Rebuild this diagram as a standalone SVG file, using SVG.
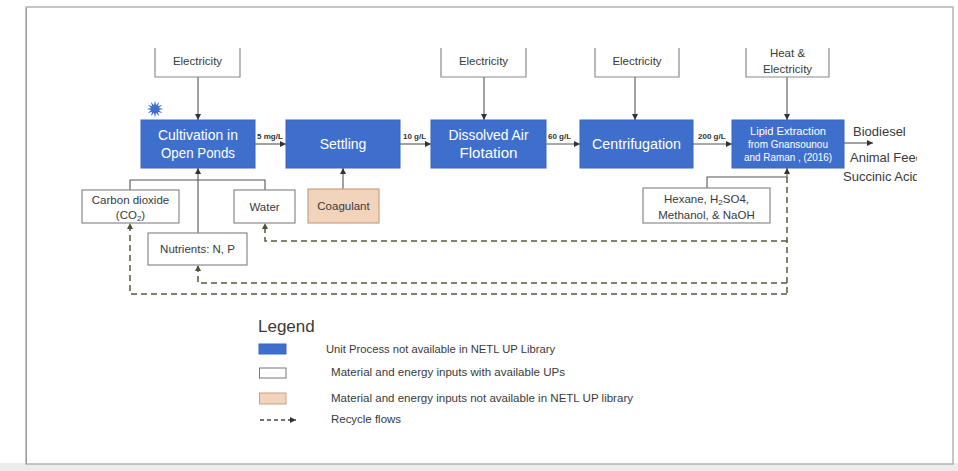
<svg xmlns="http://www.w3.org/2000/svg" width="958" height="471" viewBox="0 0 958 471">
<style>
text{font-family:"Liberation Sans","Noto Sans",Arial,sans-serif;fill:#3a3a3a}
.up{fill:#3f6fcc;stroke:#3a66bd;stroke-width:1}
.in{fill:#ffffff;stroke:#8a8a8a;stroke-width:1.2}
.na{fill:#f2d4bd;stroke:#c4a287;stroke-width:1.2}
.wt{fill:#ffffff;text-anchor:middle}
.lb{text-anchor:middle;font-size:11.5px}
.fl{font-size:8px;font-weight:bold;fill:#333}
.ln{fill:none;stroke:#555;stroke-width:1.1}
.rc{fill:none;stroke:#525c3c;stroke-width:1.5;stroke-dasharray:6 4}
.lg{font-size:10.5px}
</style>
<defs>
<marker id="ah" markerUnits="userSpaceOnUse" markerWidth="7" markerHeight="7" refX="6" refY="3" orient="auto"><path d="M0,0 L6,3 L0,6 z" fill="#333"/></marker>
<marker id="ahr" markerUnits="userSpaceOnUse" markerWidth="7" markerHeight="7" refX="6" refY="3" orient="auto"><path d="M0,0 L6,3 L0,6 z" fill="#4a5632"/></marker>
<clipPath id="clipOut"><rect x="840" y="110" width="77" height="80"/></clipPath>
</defs>
<rect width="958" height="471" fill="#ffffff"/>
<rect x="0" y="463" width="958" height="8" fill="#ececec"/>
<rect x="26" y="7" width="927" height="457" fill="#ffffff" stroke="#b3b3b3" stroke-width="1.5"/>
<line x1="26.5" y1="8" x2="26.5" y2="464" stroke="#999" stroke-width="1"/>

<g id="connectors">
<path class="ln" d="M198,77 V120" marker-end="url(#ah)"/>
<path class="ln" d="M484,77 V120" marker-end="url(#ah)"/>
<path class="ln" d="M635,77 V120" marker-end="url(#ah)"/>
<path class="ln" d="M787,77 V120" marker-end="url(#ah)"/>
<path class="ln" d="M255,144 H286" marker-end="url(#ah)"/>
<path class="ln" d="M400,144 H431" marker-end="url(#ah)"/>
<path class="ln" d="M546,144 H580" marker-end="url(#ah)"/>
<path class="ln" d="M693,144 H732" marker-end="url(#ah)"/>
<path class="ln" d="M844,143 H873" marker-end="url(#ah)"/>
<path class="ln" d="M198,233 V168" marker-end="url(#ah)"/>
<path class="ln" d="M130,190 V180 H265 V190"/>
<path class="ln" d="M343,189 V168" marker-end="url(#ah)"/>
<path class="ln" d="M707,188 V177 H787 V168" marker-end="url(#ah)"/>
<path class="rc" d="M787,177 V294"/>
<path class="rc" d="M787,241 H265 V223" marker-end="url(#ahr)"/>
<path class="rc" d="M787,283 H198 V265" marker-end="url(#ahr)"/>
<path class="rc" d="M787,294 H130 V223" marker-end="url(#ahr)"/>
<text class="fl" x="257" y="139">5 mg/L</text>
<text class="fl" x="403" y="139">10 g/L</text>
<text class="fl" x="548" y="139">60 g/L</text>
<text class="fl" x="698" y="139">200 g/L</text>
</g>

<g id="elec1"><path class="in" d="M155,48 V77 H240 V48"/><text class="lb" x="197.5" y="65">Electricity</text></g>
<g id="elec2"><path class="in" d="M441,48 V77 H526 V48"/><text class="lb" x="483.5" y="65">Electricity</text></g>
<g id="elec3"><path class="in" d="M595,48 V77 H679 V48"/><text class="lb" x="637" y="65">Electricity</text></g>
<g id="heat"><path class="in" d="M746,48 V77 H829 V48"/><text class="lb" x="787.5" y="57">Heat &amp;</text><text class="lb" x="787.5" y="73">Electricity</text></g>

<g id="star"><polygon fill="#3f6fcc" points="163.5,109 158.86,110.04 162.36,113.25 157.83,111.83 159.25,116.36 156.04,112.86 155,117.5 153.96,112.86 150.75,116.36 152.17,111.83 147.64,113.25 151.14,110.04 146.5,109 151.14,107.96 147.64,104.75 152.17,106.17 150.75,101.64 153.96,105.14 155,100.5 156.04,105.14 159.25,101.64 157.83,106.17 162.36,104.75 158.86,107.96"/></g>

<g id="cultivation"><rect class="up" x="141" y="120" width="114" height="48"/><text class="wt" x="198" y="140" font-size="14" textLength="80" lengthAdjust="spacingAndGlyphs">Cultivation in</text><text class="wt" x="198" y="158" font-size="14" textLength="74" lengthAdjust="spacingAndGlyphs">Open Ponds</text></g>
<g id="settling"><rect class="up" x="286" y="120" width="114" height="48"/><text class="wt" x="343" y="149" font-size="14">Settling</text></g>
<g id="daf"><rect class="up" x="431" y="120" width="115" height="48"/><text class="wt" x="488.5" y="140" font-size="14" textLength="80" lengthAdjust="spacingAndGlyphs">Dissolved Air</text><text class="wt" x="488.5" y="158" font-size="14" textLength="58" lengthAdjust="spacingAndGlyphs">Flotation</text></g>
<g id="centrifugation"><rect class="up" x="580" y="120" width="113" height="48"/><text class="wt" x="636.5" y="149" font-size="14" textLength="89" lengthAdjust="spacingAndGlyphs">Centrifugation</text></g>
<g id="lipid"><rect class="up" x="732" y="120" width="112" height="48"/><text class="wt" x="788" y="134.5" font-size="10" textLength="76" lengthAdjust="spacingAndGlyphs">Lipid Extraction</text><text class="wt" x="788" y="147.5" font-size="10" textLength="80" lengthAdjust="spacingAndGlyphs">from Gnansounou</text><text class="wt" x="788" y="161" font-size="10" textLength="88" lengthAdjust="spacingAndGlyphs">and Raman , (2016)</text></g>

<g id="outputs" clip-path="url(#clipOut)">
<text x="853" y="136" font-size="13">Biodiesel</text>
<text x="850" y="162" font-size="13">Animal Feed</text>
<text x="843" y="181" font-size="13">Succinic Acid</text>
</g>

<g id="co2"><rect class="in" x="82" y="190" width="97" height="33"/><text class="lb" x="130.5" y="204">Carbon dioxide</text><text class="lb" x="130.5" y="219">(CO<tspan font-size="8" dy="2">2</tspan><tspan dy="-2">)</tspan></text></g>
<g id="water"><rect class="in" x="234" y="190" width="61" height="33"/><text class="lb" x="264.5" y="211">Water</text></g>
<g id="nutrients"><rect class="in" x="148" y="233" width="99" height="32"/><text class="lb" x="197.5" y="253">Nutrients: N, P</text></g>
<g id="coagulant"><rect class="na" x="308" y="189" width="71" height="34"/><text class="lb" x="343.5" y="210">Coagulant</text></g>
<g id="hexane"><rect class="in" x="643" y="188" width="127" height="35"/><text class="lb" x="706.5" y="203">Hexane, H<tspan font-size="8" dy="2">2</tspan><tspan dy="-2">SO4,</tspan></text><text class="lb" x="706.5" y="219">Methanol, &amp; NaOH</text></g>

<g id="legend">
<text x="258" y="332" font-size="17" fill="#444">Legend</text>
<rect x="259" y="344" width="27" height="10" fill="#3f6fcc" stroke="#3a66bd"/>
<text class="lg" x="326" y="353" textLength="229" lengthAdjust="spacingAndGlyphs">Unit Process not available in NETL UP Library</text>
<rect x="259.5" y="368" width="26.5" height="10" fill="#fff" stroke="#777"/>
<text class="lg" x="331" y="376" textLength="234" lengthAdjust="spacingAndGlyphs">Material and energy inputs with available UPs</text>
<rect x="259.5" y="393" width="26.5" height="11" fill="#f2d4bd" stroke="#c4a287"/>
<text class="lg" x="331" y="402" textLength="302" lengthAdjust="spacingAndGlyphs">Material and energy inputs not available in NETL UP library</text>
<path d="M260,420 H296" fill="none" stroke="#444" stroke-width="1.3" stroke-dasharray="4 3" marker-end="url(#ah)"/>
<text class="lg" x="331" y="423" textLength="70" lengthAdjust="spacingAndGlyphs">Recycle flows</text>
</g>
</svg>
